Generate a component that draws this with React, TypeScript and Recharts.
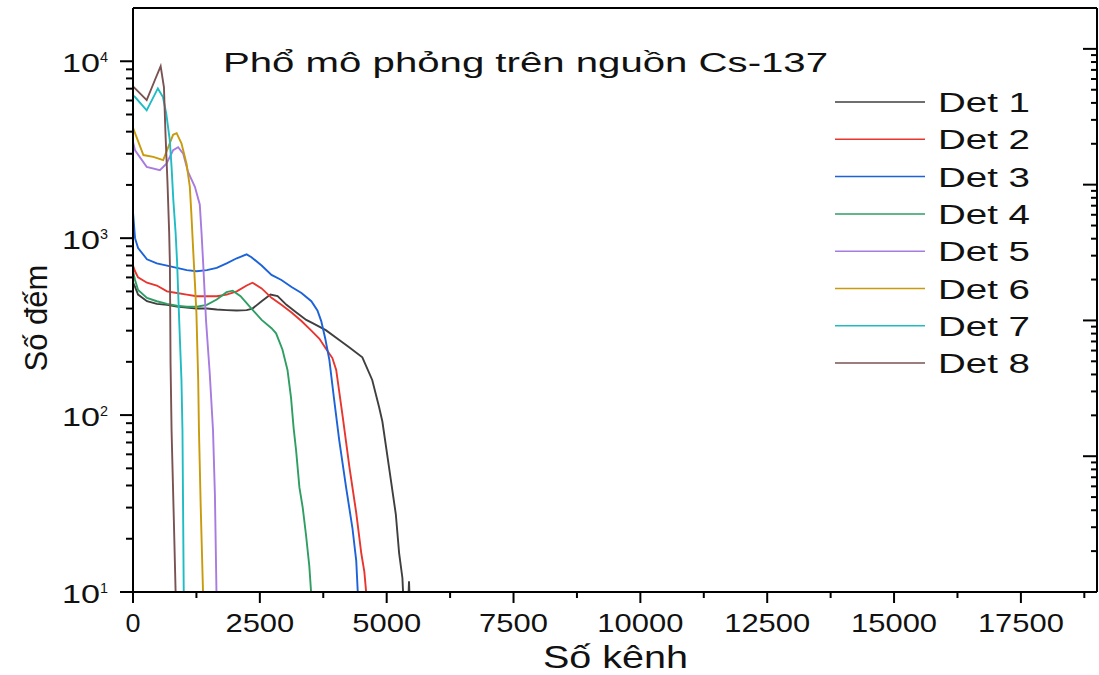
import { LineChart, Line, XAxis, YAxis, Legend } from "recharts";

const FONT = "'Liberation Sans', Arial, Helvetica, sans-serif";

const seriesNames = ["Det 1", "Det 2", "Det 3", "Det 4", "Det 5", "Det 6", "Det 7", "Det 8"];
const seriesColors = ["#3f3f3f", "#e8352e", "#1c62d8", "#2f9e63", "#a77be0", "#c99a0c", "#1fbcc4", "#7a5252"];

// channel / count pairs
const det1Channels = [0, 40, 100, 275, 470, 670, 865, 1060, 1255, 1455, 1650, 1845, 2045, 2240, 2355, 2535, 2710, 2850, 3025, 3220, 3415, 3540, 3800, 4065, 4260, 4520, 4715, 4850, 4915, 5045, 5180, 5245, 5310, 5330, 5420, 5440, 5460];
const det1Counts = [560, 530, 480, 440, 425, 420, 410, 405, 400, 400, 395, 392, 390, 392, 400, 440, 480, 470, 420, 380, 345, 331, 302, 266, 242, 212, 158, 111, 92, 51, 27.5, 16.6, 12, 9, 8, 11.5, 8];

const det2Channels = [0, 40, 100, 275, 470, 670, 865, 1060, 1255, 1455, 1650, 1845, 2045, 2240, 2355, 2535, 2730, 2925, 3125, 3320, 3515, 3675, 3790, 3930, 4005, 4135, 4265, 4400, 4500, 4560, 4595, 4640];
const det2Counts = [700, 650, 600, 560, 540, 500, 490, 480, 470, 470, 470, 480, 500, 540, 560, 520, 460, 420, 380, 340, 300, 270, 240, 210, 180, 97, 51, 28, 16.5, 13, 10, 8];

const det3Channels = [0, 40, 100, 275, 470, 670, 865, 1060, 1255, 1455, 1650, 1845, 2045, 2240, 2335, 2535, 2730, 2925, 3125, 3320, 3515, 3635, 3710, 3790, 3870, 3965, 4065, 4200, 4325, 4400, 4430, 4460];
const det3Counts = [1400, 1000, 880, 760, 720, 700, 680, 660, 650, 660, 680, 720, 770, 810, 780, 700, 620, 580, 530, 490, 440, 390, 340, 270, 205, 122, 72, 39, 23, 15, 10, 8];

const det4Channels = [0, 40, 100, 275, 470, 670, 865, 1060, 1255, 1455, 1650, 1845, 1965, 2120, 2335, 2535, 2730, 2820, 2945, 3045, 3115, 3165, 3215, 3280, 3345, 3410, 3475, 3510, 3540];
const det4Counts = [650, 580, 510, 460, 440, 425, 415, 410, 410, 420, 450, 495, 505, 470, 400, 345, 310, 290, 235, 180, 125, 85, 63, 39, 30, 21, 14, 10, 8];

const det5Channels = [0, 40, 270, 530, 660, 790, 890, 990, 1085, 1220, 1316, 1350, 1383, 1416, 1440, 1512, 1577, 1615, 1645, 1670];
const det5Counts = [3500, 3140, 2530, 2420, 2640, 3140, 3270, 3000, 2370, 1950, 1550, 1080, 723, 464, 340, 173, 82, 35, 10, 8];

const det6Channels = [0, 40, 205, 400, 595, 695, 790, 860, 955, 1055, 1120, 1150, 1185, 1220, 1250, 1285, 1300, 1335, 1380, 1400];
const det6Counts = [4200, 3920, 2950, 2880, 2760, 3270, 3840, 3920, 3440, 2640, 1950, 1380, 870, 560, 377, 158, 82, 30, 10, 8];

const det7Channels = [0, 40, 270, 490, 590, 655, 725, 760, 795, 840, 870, 905, 955, 975, 1000, 1020];
const det7Counts = [6400, 6280, 5280, 7020, 6280, 5080, 3580, 2530, 1640, 1070, 723, 377, 158, 82, 10, 8];

const det8Channels = [0, 40, 270, 430, 545, 610, 640, 680, 713, 727, 740, 760, 805, 840, 860];
const det8Counts = [7200, 7030, 6030, 7810, 9380, 7130, 3920, 2050, 1070, 723, 197, 82, 25.5, 10, 8];

const xMajorTicks = [0, 2500, 5000, 7500, 10000, 12500, 15000, 17500];
const xMinorTicks = [1250, 3750, 6250, 8750, 11250, 13750, 16250, 18750];
const xTicks = [...xMajorTicks, ...xMinorTicks].sort((a, b) => a - b);

const leftDecades = [10, 100, 1000];
const rightDecades = [1, 10, 100, 1000];
const mantissas = [1, 2, 3, 4, 5, 6, 7, 8, 9];
const leftTicks = [...leftDecades.flatMap((d) => mantissas.map((m) => m * d)), 10000];
const rightTicks = [...rightDecades.flatMap((d) => mantissas.map((m) => m * d)), 10000];

const toRows = (ch: number[], counts: number[]) =>
  ch.map((c, i) => ({ ch: c, count: counts[i] }));

const series = [
  toRows(det1Channels, det1Counts),
  toRows(det2Channels, det2Counts),
  toRows(det3Channels, det3Counts),
  toRows(det4Channels, det4Counts),
  toRows(det5Channels, det5Counts),
  toRows(det6Channels, det6Counts),
  toRows(det7Channels, det7Counts),
  toRows(det8Channels, det8Counts),
];

const isDecade = (v: number) => {
  const l = Math.log10(v);
  return Math.abs(l - Math.round(l)) < 1e-9;
};

function BottomTick({ x, y, payload }: any) {
  const v = payload.value as number;
  const major = xMajorTicks.includes(v);
  const label = String(v);
  return (
    <g>
      <line x1={x} x2={x} y1={y} y2={y + (major ? 11 : 6)} stroke="#000" strokeWidth={2} />
      {major && (
        <text
          x={x}
          y={y + 40}
          textAnchor="middle"
          fontSize={26}
          fontFamily={FONT}
          fill="#111"
          textLength={label.length === 1 ? 15 : label.length * 17.2}
          lengthAdjust="spacingAndGlyphs"
        >
          {label}
        </text>
      )}
    </g>
  );
}

function TopTick({ x, y, payload }: any) {
  const major = xMajorTicks.includes(payload.value);
  return <line x1={x} x2={x} y1={y} y2={y + (major ? 11 : 6)} stroke="#000" strokeWidth={2} />;
}

function LeftTick({ x, y, payload }: any) {
  const v = payload.value as number;
  const major = isDecade(v);
  return (
    <g>
      <line x1={x - (major ? 13 : 7)} x2={x} y1={y} y2={y} stroke="#000" strokeWidth={2} />
      {major && (
        <>
          <text x={x - 71} y={y + 11} fontSize={26} fontFamily={FONT} fill="#111" textLength={38} lengthAdjust="spacingAndGlyphs">
            10
          </text>
          <text x={x - 33} y={y + 1} fontSize={15} fontFamily={FONT} fill="#111" textLength={8} lengthAdjust="spacingAndGlyphs">
            {Math.round(Math.log10(v))}
          </text>
        </>
      )}
    </g>
  );
}

function RightTick({ x, y, payload }: any) {
  const major = isDecade(payload.value);
  return <line x1={x - (major ? 14 : 6)} x2={x} y1={y} y2={y} stroke="#000" strokeWidth={2} />;
}

function LegendBox({ payload }: any) {
  return (
    <svg width={269} height={300} style={{ display: "block" }}>
      {(payload || []).map((entry: any, i: number) => {
        const yy = 22 + i * 37.3;
        return (
          <g key={entry.value}>
            <line x1={5} x2={95} y1={yy} y2={yy} stroke={entry.color} strokeWidth={1.5} />
            <text
              x={108}
              y={yy + 10}
              fontSize={27}
              fontFamily={FONT}
              fill="#111"
              textLength={92}
              lengthAdjust="spacingAndGlyphs"
            >
              {entry.value}
            </text>
          </g>
        );
      })}
    </svg>
  );
}

const axisLine = { stroke: "#000", strokeWidth: 2 };

export default function App() {
  return (
    <div style={{ position: "absolute", left: 0, top: 0, background: "#fff" }}>
      <LineChart width={1099} height={675} margin={{ top: 7, right: 1, bottom: 0, left: 0 }}>
        <XAxis
          xAxisId="b"
          type="number"
          dataKey="ch"
          domain={[0, 19000]}
          allowDataOverflow
          ticks={xTicks}
          interval={0}
          height={83}
          tickSize={0}
          tickMargin={0}
          tickLine={false}
          axisLine={axisLine}
          tick={(p: any) => <BottomTick {...p} />}
        />
        <XAxis
          xAxisId="t"
          orientation="top"
          type="number"
          domain={[0, 19000]}
          allowDataOverflow
          ticks={xTicks}
          interval={0}
          height={1}
          tickSize={0}
          tickMargin={0}
          tickLine={false}
          axisLine={axisLine}
          tick={(p: any) => <TopTick {...p} />}
        />
        <YAxis
          yAxisId="l"
          type="number"
          scale="log"
          domain={[10, 20000]}
          allowDataOverflow
          ticks={leftTicks}
          interval={0}
          width={133}
          tickSize={0}
          tickMargin={0}
          tickLine={false}
          axisLine={axisLine}
          tick={(p: any) => <LeftTick {...p} />}
        />
        <YAxis
          yAxisId="r"
          orientation="right"
          type="number"
          scale="log"
          domain={[1, 20000]}
          allowDataOverflow
          ticks={rightTicks}
          interval={0}
          width={1}
          tickSize={0}
          tickMargin={0}
          tickLine={false}
          axisLine={axisLine}
          tick={(p: any) => <RightTick {...p} />}
        />
        {series.map((rows, i) => (
          <Line
            key={seriesNames[i]}
            xAxisId="b"
            yAxisId="l"
            data={rows}
            dataKey="count"
            name={seriesNames[i]}
            stroke={seriesColors[i]}
            strokeWidth={1.9}
            dot={false}
            type="linear"
            isAnimationActive={false}
          />
        ))}
        <Legend
          layout="horizontal"
          align="center"
          verticalAlign="middle"
          wrapperStyle={{ left: 830, top: 80, width: 269, height: 300 }}
          content={(p: any) => <LegendBox {...p} />}
        />
        <text
          x={223}
          y={72}
          fontSize={27}
          fontFamily={FONT}
          fill="#111"
          textLength={605}
          lengthAdjust="spacingAndGlyphs"
        >
          Phổ mô phỏng trên nguồn Cs-137
        </text>
        <text
          x={543}
          y={668}
          fontSize={32}
          fontFamily={FONT}
          fill="#111"
          textLength={145}
          lengthAdjust="spacingAndGlyphs"
        >
          Số kênh
        </text>
        <text
          transform="translate(47, 318) rotate(-90)"
          x={0}
          y={0}
          textAnchor="middle"
          fontSize={31}
          fontFamily={FONT}
          fill="#111"
        >
          Số đếm
        </text>
      </LineChart>
    </div>
  );
}
